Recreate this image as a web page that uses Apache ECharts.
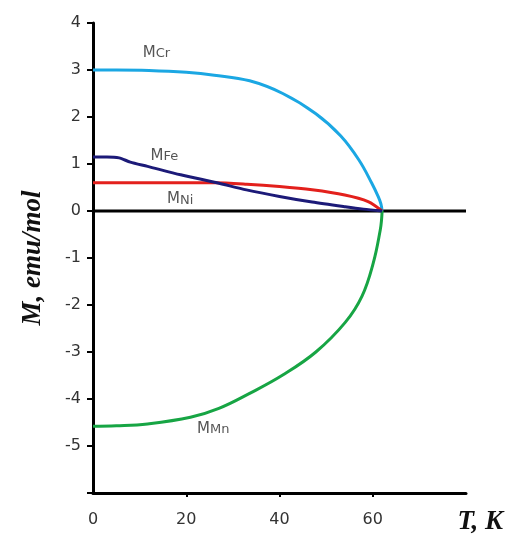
<!DOCTYPE html>
<html><head><meta charset="utf-8">
<script src="https://cdn.jsdelivr.net/npm/echarts@6/dist/echarts.min.js"></script>
<style>html,body{margin:0;padding:0;background:#fff}#c{width:509px;height:546px}</style>
</head><body><div id="c"></div>
<script>
// Data (T in K, M in emu/mol)
const crT = [0, 5, 12, 20, 26, 33.6, 40.7, 47.8, 53.1, 57, 59.8, 61.2, 61.75, 62];
const crM = [3.0, 3.0, 2.99, 2.95, 2.89, 2.77, 2.5, 2.07, 1.6, 1.09, 0.59, 0.3, 0.15, 0];
const feT = [0, 3, 5.6, 8, 11.7, 18.8, 26.6, 32.9, 40, 47, 54.1, 58, 62];
const feM = [1.15, 1.15, 1.13, 1.04, 0.95, 0.77, 0.6, 0.45, 0.31, 0.19, 0.09, 0.04, 0];
const niT = [0, 10, 20, 26, 33, 40, 47, 54, 59, 62];
const niM = [0.6, 0.6, 0.6, 0.6, 0.57, 0.52, 0.45, 0.34, 0.2, 0];
const mnT = [0, 5, 11.7, 20.9, 27, 33.6, 40.7, 47.8, 54.1, 57.7, 60.1, 61.6, 61.9, 62];
const mnM = [-4.58, -4.57, -4.53, -4.39, -4.2, -3.88, -3.49, -3.0, -2.37, -1.81, -1.11, -0.41, -0.17, 0];
const zeroT = [0, 80];
const zeroM = [0, 0];
const labelMain = ['M', 'M', 'M', 'M'];
const labelSub = ['Cr', 'Fe', 'Ni', 'Mn'];
const labelT = [13.6, 15.3, 18.7, 25.8];
const labelM = [3.4, 1.2, 0.28, -4.6];
const xTicks = [0, 20, 40, 60];

const pairs = (a, b) => a.map((v, i) => [v, b[i]]);
const chart = echarts.init(document.getElementById('c'));
const lw = 3;
const lineBase = { type: 'line', symbol: 'none', smooth: 0.4, z: 3 };
chart.setOption({
  animation: false,
  grid: { left: 93, right: 43, top: 23, bottom: 53 },
  xAxis: {
    type: 'value', min: 0, max: 80, interval: 20,
    axisLine: { onZero: false, lineStyle: { color: '#000', width: 3 } },
    axisTick: { show: true, length: 4, customValues: [20, 40, 60], lineStyle: { color: '#000', width: 2 } },
    splitLine: { show: false },
    axisLabel: { color: '#333', fontSize: 16, fontFamily: 'DejaVu Sans', margin: 19,
      formatter: v => xTicks.includes(v) ? String(v) : '' }
  },
  yAxis: {
    type: 'value', min: -6, max: 4, interval: 1,
    name: 'M, emu/mol', nameLocation: 'middle', nameGap: 46, nameRotate: 90,
    nameTextStyle: { fontFamily: 'Liberation Serif', fontStyle: 'italic', fontWeight: 'bold', fontSize: 27, color: '#111' },
    axisLine: { onZero: false, lineStyle: { color: '#000', width: 3 } },
    axisTick: { show: true, length: 6, lineStyle: { color: '#000', width: 2 } },
    splitLine: { show: false },
    axisLabel: { color: '#333', fontSize: 16, fontFamily: 'DejaVu Sans', margin: 12,
      formatter: v => v === -6 ? '' : String(v) }
  },
  graphic: [{ type: 'text', right: 6, bottom: 10,
    style: { text: 'T, K', font: 'italic bold 27px "Liberation Serif"', fill: '#111' } }],
  series: [
    { type: 'line', data: pairs(zeroT, zeroM), symbol: 'none', lineStyle: { color: '#000', width: 3 }, z: 1 },
    Object.assign({}, lineBase, { data: pairs(crT, crM), lineStyle: { color: '#1ba7e3', width: lw } }),
    Object.assign({}, lineBase, { data: pairs(mnT, mnM), lineStyle: { color: '#17a544', width: lw } }),
    Object.assign({}, lineBase, { data: pairs(niT, niM), smooth: 0.3, lineStyle: { color: '#e3201c', width: lw } }),
    Object.assign({}, lineBase, { data: pairs(feT, feM), smooth: 0.25, lineStyle: { color: '#1c1a78', width: lw }, z: 4 }),
    { type: 'scatter', data: pairs(labelT, labelM).map((p, i) => ({ value: p, name: String(i) })),
      symbolSize: 0, silent: true,
      label: { show: true, position: 'inside',
        formatter: p => '{a|' + labelMain[p.dataIndex] + '}{b|' + labelSub[p.dataIndex] + '}',
        rich: {
          a: { color: '#2a2a2a', fontSize: 15, fontFamily: 'DejaVu Sans', verticalAlign: 'bottom', lineHeight: 18 },
          b: { color: '#2a2a2a', fontSize: 13, fontFamily: 'DejaVu Sans', verticalAlign: 'bottom', lineHeight: 18 }
        } } }
  ]
});
</script></body></html>
